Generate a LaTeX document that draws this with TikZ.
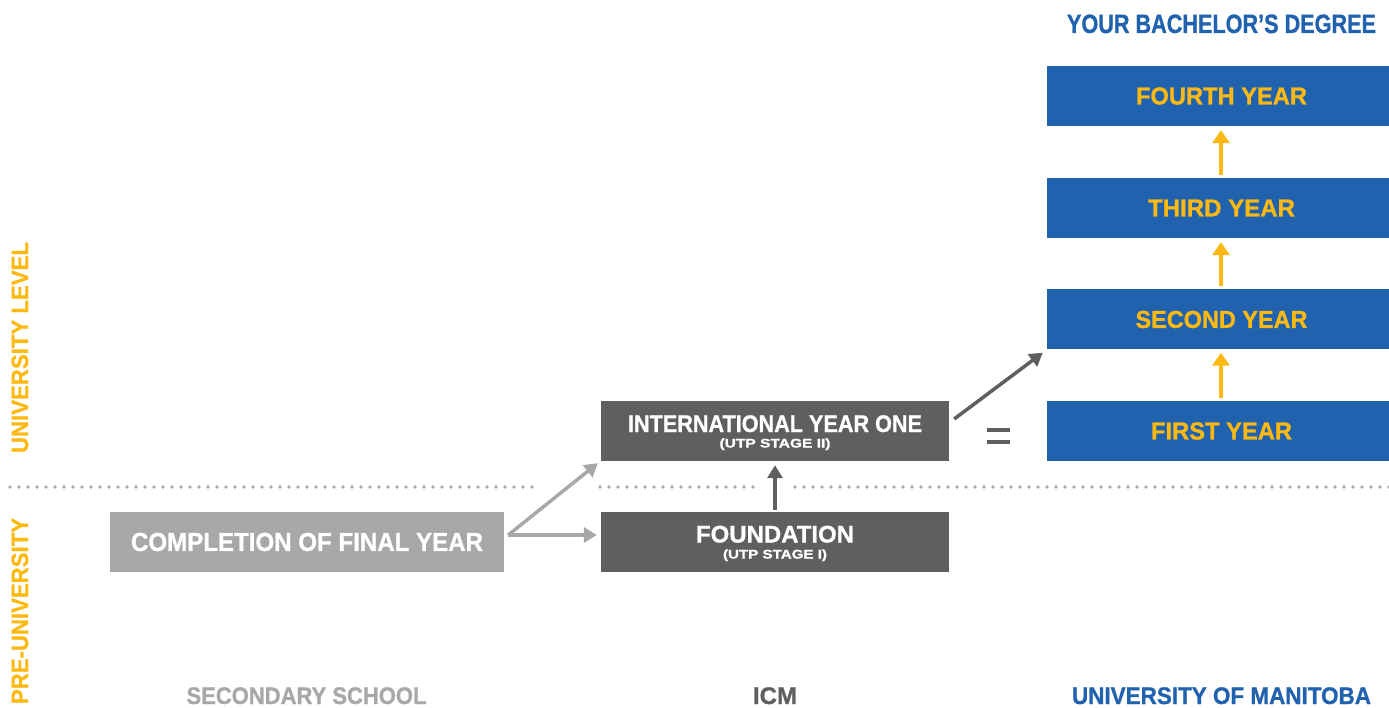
\documentclass[tikz,border=0pt]{standalone}
\usepackage{fontspec}
\setmainfont{Liberation Sans}[BoldFont={Liberation Sans Bold},BoldFeatures={FakeBold=1}]
\usetikzlibrary{arrows.meta}
\definecolor{umblue}{HTML}{2062AE}
\definecolor{umyellow}{HTML}{FDB913}
\definecolor{dgray}{HTML}{5E5F61}
\definecolor{lgray}{HTML}{A7A8AA}
\newcommand\fitw[2]{\resizebox{#1pt}{\height}{#2}}
\newcommand\yeartxt[2]{\hspace*{7pt}\fitw{#1}{#2}}
\tikzset{
  boxbase/.style={rectangle, inner sep=0pt, minimum height=60pt, font=\bfseries},
  yearbox/.style={boxbase, fill=umblue, text=umyellow, minimum width=342pt, font=\bfseries\fontsize{24.5}{24.5}\selectfont},
  icmbox/.style={boxbase, fill=dgray, text=white, minimum width=348pt},
  schoolbox/.style={boxbase, fill=lgray, text=white, minimum width=394pt},
  lbl/.style={inner sep=0pt, font=\bfseries\fontsize{24}{24}\selectfont},
  sidelbl/.style={inner sep=0pt, rotate=90, text=umyellow, font=\bfseries\fontsize{23.5}{23.5}\selectfont},
  yarrow/.style={umyellow, line width=4.5pt, -{Triangle[length=13pt,width=17pt]}},
  garrow/.style={line width=3.5pt, -{Triangle[length=13pt,width=15pt]}},
  dotline/.style={lgray, line width=3.6pt, line cap=round, dash pattern=on 0pt off 9pt}
}
\begin{document}
\begin{tikzpicture}[x=1pt,y=-1pt]
\useasboundingbox (0,0) rectangle (1389,708);
% dotted divider
\draw[dotline] (10,487) -- (540,487);
\draw[dotline] (600,487) -- (757,487);
\draw[dotline] (795,487) -- (1389,487);
% boxes
\node[yearbox] (fourth) at (1218,96) {\yeartxt{171}{FOURTH YEAR}};
\node[yearbox] (third) at (1218,208) {\yeartxt{147}{THIRD YEAR}};
\node[yearbox] (second) at (1218,319.5) {\yeartxt{172}{SECOND YEAR}};
\node[yearbox] (first) at (1218,431) {\yeartxt{141}{FIRST YEAR}};
\node[icmbox] (iyo) at (775,431) {};
\node[icmbox] (found) at (775,542) {};
\node[schoolbox] (comp) at (307,542) {\fontsize{26}{26}\selectfont\fitw{352}{COMPLETION OF FINAL YEAR}};
\node[inner sep=0pt, text=white, font=\bfseries\fontsize{24}{24}\selectfont, anchor=base] (iyot) at (775,432) {\fitw{294}{INTERNATIONAL YEAR ONE}};
\node[inner sep=0pt, text=white, font=\bfseries\fontsize{12.5}{12.5}\selectfont, anchor=base] (iyos) at (775,447.5) {\fitw{111}{(UTP STAGE II)}};
\node[inner sep=0pt, text=white, font=\bfseries\fontsize{24}{24}\selectfont, anchor=base] (foundt) at (775,542.5) {\fitw{158}{FOUNDATION}};
\node[inner sep=0pt, text=white, font=\bfseries\fontsize{12.5}{12.5}\selectfont, anchor=base] (founds) at (775,558.5) {\fitw{104}{(UTP STAGE I)}};
% equals sign
\fill[dgray] (987,428) rectangle (1010,432);
\fill[dgray] (987,440) rectangle (1010,444);
% titles
\node[lbl, text=umblue, anchor=base, font=\bfseries\fontsize{26.5}{26.5}\selectfont] (title) at (1221.5,33) {\fitw{309}{YOUR BACHELOR’S DEGREE}};
\node[lbl, text=lgray, anchor=base] (sec) at (306.5,704) {\fitw{240}{SECONDARY SCHOOL}};
\node[lbl, text=dgray, anchor=base] (icm) at (775,704) {\fitw{44}{ICM}};
\node[lbl, text=umblue, anchor=base] (uom) at (1221.5,704) {\fitw{299}{UNIVERSITY OF MANITOBA}};
\node[sidelbl, anchor=base] (ulev) at (28,347.5) {\fitw{211}{UNIVERSITY LEVEL}};
\node[sidelbl, anchor=base] (preu) at (28,611) {\fitw{186}{PRE-UNIVERSITY}};
% yellow arrows
\coordinate (ax) at (1221,0);
\draw[yarrow] ([yshift=3pt]first.north -| ax) -- ([yshift=-3pt]second.south -| ax);
\draw[yarrow] ([yshift=3pt]second.north -| ax) -- ([yshift=-4pt]third.south -| ax);
\draw[yarrow] ([yshift=3pt]third.north -| ax) -- ([yshift=-4pt]fourth.south -| ax);
% gray arrows
\coordinate (cs) at ([shift={(4pt,7pt)}]comp.east);
\draw[garrow, lgray] (cs) -- ([shift={(-4pt,0pt)}]found.west |- cs);
\draw[garrow, lgray] (cs) -- ([shift={(-3pt,-2pt)}]iyo.south west);
\draw[garrow, dgray] ([yshift=2pt]found.north) -- ([yshift=-4pt]iyo.south);
\draw[garrow, dgray] ([shift={(5pt,12pt)}]iyo.east) -- ([shift={(-4pt,-3pt)}]second.south west);
\end{tikzpicture}
\end{document}
